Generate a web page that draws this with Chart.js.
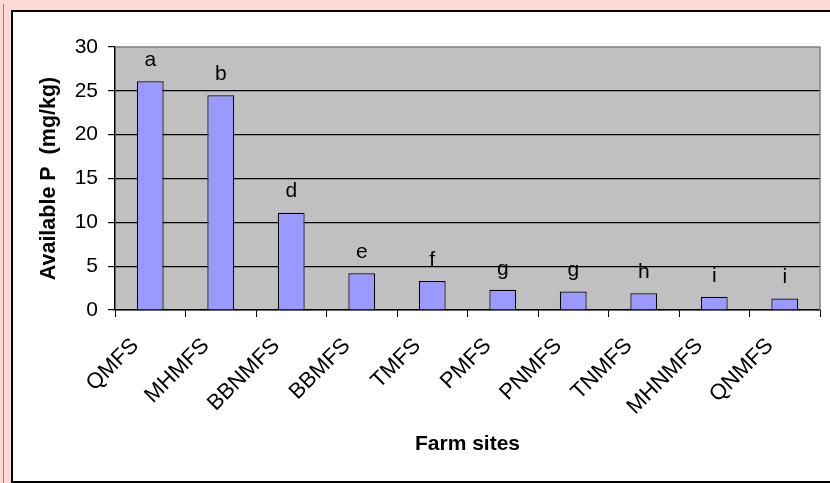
<!DOCTYPE html>
<html>
<head>
<meta charset="utf-8">
<script src="https://cdn.jsdelivr.net/npm/chart.js@4/dist/chart.umd.min.js"></script>
<style>
  html, body { margin: 0; padding: 0; width: 830px; height: 483px; overflow: hidden; background: #FFD8D8; }
  #redline { position: absolute; left: 3px; top: 4px; width: 1px; height: 479px; background: #F06060; }
  #box { position: absolute; left: 11px; top: 10px; width: 840px; height: 469px; border: 2px solid #000; background: #fff; }
  #c { position: absolute; left: 0; top: 0; }
</style>
</head>
<body>
<div id="redline"></div>
<div id="box"></div>
<canvas id="c" width="830" height="483"></canvas>
<script>
const categories = ['QMFS', 'MHMFS', 'BBNMFS', 'BBMFS', 'TMFS', 'PMFS', 'PNMFS', 'TNMFS', 'MHNMFS', 'QNMFS'];
const availableP = [26.1, 24.5, 11.1, 4.2, 3.3, 2.3, 2.1, 1.9, 1.5, 1.3];
const letters = ['a', 'b', 'd', 'e', 'f', 'g', 'g', 'h', 'i', 'i'];
const yTicks = [0, 5, 10, 15, 20, 25, 30];

const FONT = '"Liberation Sans", Arial, sans-serif';

const plotBg = {
  id: 'plotBg',
  beforeDraw(chart) {
    const { ctx, chartArea: a } = chart;
    ctx.save();
    ctx.fillStyle = '#C0C0C0';
    ctx.fillRect(a.left, a.top, a.right - a.left, a.bottom - a.top);
    ctx.restore();
  },
  afterDraw(chart) {
    const { ctx, chartArea: a } = chart;
    ctx.save();
    ctx.strokeStyle = '#808080';
    ctx.lineWidth = 1.5;
    ctx.beginPath();
    ctx.moveTo(a.left, a.top);
    ctx.lineTo(a.right, a.top);
    ctx.lineTo(a.right, a.bottom);
    ctx.stroke();
    ctx.restore();
  }
};

const letterLabels = {
  id: 'letterLabels',
  afterDatasetsDraw(chart) {
    const { ctx } = chart;
    const meta = chart.getDatasetMeta(0);
    ctx.save();
    ctx.font = '21px ' + FONT;
    ctx.fillStyle = '#000';
    ctx.textAlign = 'center';
    ctx.textBaseline = 'middle';
    meta.data.forEach((bar, i) => {
      ctx.fillText(letters[i], bar.x, bar.y - 21);
    });
    ctx.restore();
  }
};

new Chart(document.getElementById('c'), {
  type: 'bar',
  data: {
    labels: categories,
    datasets: [{
      data: availableP,
      backgroundColor: '#9999FF',
      borderColor: '#000',
      borderWidth: 1.2,
      categoryPercentage: 1,
      barPercentage: 0.38
    }]
  },
  options: {
    responsive: false,
    animation: false,
    layout: { padding: { left: 32, right: 10, top: 47, bottom: 22 } },
    plugins: { legend: { display: false }, tooltip: { enabled: false } },
    scales: {
      x: {
        afterFit(scale) { scale.height = 151; },
        grid: { offset: true, drawOnChartArea: false, drawTicks: true, tickLength: 7, color: '#000', lineWidth: 1 },
        border: { display: true, color: '#000', width: 1.5 },
        ticks: {
          color: '#000',
          font: { family: FONT, size: 22 },
          minRotation: 45, maxRotation: 45,
          autoSkip: false,
          padding: 16,
          labelOffset: -15
        },
        title: {
          display: true,
          text: 'Farm sites',
          color: '#000',
          font: { family: FONT, size: 21, weight: 'bold' },
          padding: { top: 4, bottom: 4 }
        }
      },
      y: {
        min: 0, max: 30,
        afterFit(scale) { scale.width = 83; },
        afterBuildTicks(scale) { scale.ticks = yTicks.map(v => ({ value: v })); },
        grid: {
          color: ctx => (ctx.tick && ctx.tick.value === 30) ? 'rgba(0,0,0,0)' : '#000',
          lineWidth: 1.2,
          tickLength: 7,
          tickColor: '#000'
        },
        border: { display: true, color: '#000', width: 1.5 },
        ticks: {
          color: '#000',
          font: { family: FONT, size: 21 },
          padding: 10,
          stepSize: 5
        },
        title: {
          display: true,
          text: 'Available P  (mg/kg)',
          color: '#000',
          font: { family: FONT, size: 21.5, weight: 'bold' },
          padding: { top: 4, bottom: 4 }
        }
      }
    }
  },
  plugins: [plotBg, letterLabels]
});
</script>
</body>
</html>
